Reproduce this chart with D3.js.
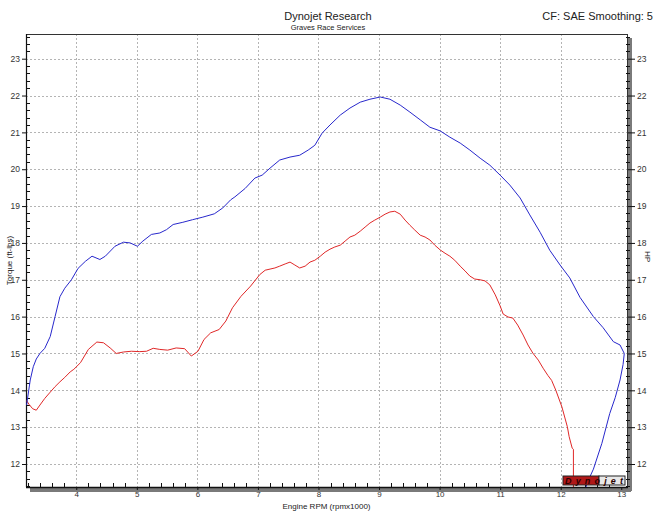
<!DOCTYPE html>
<html><head><meta charset="utf-8">
<script src="https://cdn.jsdelivr.net/npm/d3@7"></script>
<style>
html,body{margin:0;padding:0;background:#fff;overflow:hidden}
text{font-family:"Liberation Sans",Arial,sans-serif}
</style></head>
<body>
<svg id="chart" width="655" height="517"></svg>
<script>
// ---- data (rpm x1000, torque ft-lbs) ----
const blueRpm = [3.18,3.24,3.29,3.34,3.40,3.48,3.57,3.65,3.73,3.81,3.92,4.03,4.15,4.26,4.39,4.48,4.64,4.78,4.89,5.01,5.10,5.24,5.38,5.49,5.60,5.76,5.92,6.09,6.28,6.42,6.55,6.62,6.79,6.95,7.07,7.20,7.36,7.53,7.69,7.83,7.94,8.06,8.19,8.36,8.52,8.69,8.85,9.02,9.18,9.35,9.51,9.68,9.84,10.01,10.17,10.34,10.50,10.67,10.83,11.00,11.16,11.33,11.49,11.66,11.82,11.99,12.15,12.32,12.54,12.70,12.87,12.98,13.05,13.03,12.98,12.90,12.81,12.68,12.54,12.44,12.42];
const blueTq  = [13.60,14.28,14.64,14.85,15.00,15.14,15.46,16.00,16.54,16.77,17.00,17.31,17.50,17.64,17.55,17.64,17.91,18.02,18.00,17.91,18.05,18.23,18.27,18.36,18.50,18.56,18.63,18.70,18.79,18.95,19.17,19.25,19.48,19.76,19.84,20.03,20.25,20.33,20.38,20.52,20.65,20.98,21.20,21.47,21.66,21.82,21.90,21.96,21.90,21.74,21.55,21.34,21.14,21.04,20.87,20.71,20.52,20.30,20.11,19.84,19.57,19.22,18.76,18.29,17.80,17.40,17.05,16.52,16.00,15.70,15.32,15.23,15.00,14.70,14.28,13.80,13.37,12.56,11.86,11.50,11.38];
const redRpm = [3.18,3.22,3.28,3.34,3.40,3.48,3.57,3.65,3.73,3.81,3.90,3.96,4.07,4.20,4.34,4.45,4.56,4.66,4.78,4.91,5.05,5.16,5.27,5.38,5.51,5.65,5.79,5.90,6.01,6.11,6.22,6.36,6.47,6.58,6.72,6.88,7.03,7.12,7.20,7.28,7.36,7.45,7.53,7.61,7.69,7.78,7.86,7.94,8.03,8.11,8.19,8.27,8.36,8.44,8.52,8.60,8.69,8.77,8.85,8.93,9.02,9.10,9.18,9.26,9.35,9.43,9.51,9.59,9.68,9.76,9.84,9.92,10.01,10.09,10.17,10.25,10.34,10.42,10.50,10.58,10.67,10.75,10.83,10.92,11.00,11.05,11.13,11.21,11.29,11.38,11.46,11.54,11.63,11.71,11.79,11.85,11.92,12.02,12.11,12.14,12.19,12.21,12.21];
const redTq  = [13.72,13.62,13.50,13.46,13.60,13.78,13.95,14.10,14.23,14.35,14.50,14.57,14.75,15.11,15.31,15.29,15.15,15.00,15.04,15.06,15.05,15.06,15.14,15.11,15.09,15.15,15.13,14.93,15.06,15.38,15.56,15.65,15.88,16.24,16.55,16.83,17.14,17.26,17.29,17.32,17.37,17.43,17.48,17.40,17.32,17.37,17.48,17.53,17.64,17.75,17.83,17.89,17.94,18.05,18.16,18.21,18.32,18.43,18.54,18.62,18.70,18.78,18.84,18.86,18.78,18.62,18.48,18.35,18.21,18.16,18.08,17.94,17.81,17.72,17.64,17.53,17.37,17.24,17.10,17.02,17.00,16.97,16.86,16.59,16.29,16.07,15.99,15.96,15.77,15.50,15.23,15.01,14.82,14.60,14.40,14.27,14.00,13.55,13.01,12.74,12.43,12.40,11.38];
const xTicks = [4,5,6,7,8,9,10,11,12,13];
const yTicks = [12,13,14,15,16,17,18,19,20,21,22,23];
const xDomain = [3.17, 13.095];
const yDomain = [11.376, 23.67];

// ---- layout ----
const svg = d3.select("#chart");
const L = 26, R = 627, T = 34, B = 487;
const x = d3.scaleLinear().domain(xDomain).range([L, R]);
const y = d3.scaleLinear().domain(yDomain).range([B, T]);

// shadows
svg.append("rect").attr("x", R+1).attr("y", T+4).attr("width", 4).attr("height", B - T).attr("fill", "#7a7a7a");
svg.append("rect").attr("x", L+4).attr("y", B+1).attr("width", R - L).attr("height", 4).attr("fill", "#7a7a7a");
svg.append("rect").attr("x", L).attr("y", T).attr("width", R-L).attr("height", B-T).attr("fill", "#fff");

// grid
const grid = svg.append("g").attr("stroke", "#b4b4b4").attr("stroke-width", 1).attr("stroke-dasharray", "2,2");
grid.selectAll(".gx").data(xTicks.filter(d => d < 13)).join("line")
  .attr("x1", d => Math.round(x(d))+0.5).attr("x2", d => Math.round(x(d))+0.5).attr("y1", T).attr("y2", B);
grid.selectAll(".gy").data(yTicks).join("line")
  .attr("y1", d => Math.round(y(d))+0.5).attr("y2", d => Math.round(y(d))+0.5).attr("x1", L).attr("x2", R);

// frame
svg.append("rect").attr("x", L+0.5).attr("y", T+0.5).attr("width", R-L).attr("height", B-T)
  .attr("fill", "none").attr("stroke", "#333").attr("stroke-width", 1);
svg.append("line").attr("x1", L).attr("x2", R+1).attr("y1", B+0.5).attr("y2", B+0.5).attr("stroke", "#111").attr("stroke-width", 1.5);
svg.append("line").attr("x1", L+0.5).attr("x2", L+0.5).attr("y1", T).attr("y2", B).attr("stroke", "#111").attr("stroke-width", 1.2);

// minor ticks
const minorX = d3.range(32, 131).map(d => d/10).filter(d => d >= xDomain[0] && d <= xDomain[1] && Math.abs(d*5 - Math.round(d*5)) < 1e-6 && Math.abs(d - Math.round(d)) > 1e-6);
const minorY = d3.range(114, 237, 2).map(d => d/10).filter(d => Math.abs(d - Math.round(d)) > 1e-6);

// bottom axis
const axB = svg.append("g").attr("transform", `translate(0,${B})`)
  .call(d3.axisBottom(x).tickValues(xTicks).tickFormat(d3.format("d")).tickSize(3).tickPadding(1));
axB.select(".domain").remove();
axB.selectAll("text").attr("font-size", 8).attr("fill", "#333");
axB.selectAll("line").attr("stroke", "#111");
svg.append("g").selectAll("line").data(minorX).join("line")
  .attr("x1", d => Math.round(x(d))+0.5).attr("x2", d => Math.round(x(d))+0.5).attr("y1", B).attr("y2", B-4).attr("stroke", "#111");

// left axis
const axL = svg.append("g").attr("transform", `translate(${L},0)`)
  .call(d3.axisLeft(y).tickValues(yTicks).tickFormat(d3.format("d")).tickSize(4).tickPadding(2));
axL.select(".domain").remove();
axL.selectAll("text").attr("font-size", 8.5).attr("fill", "#333");
axL.selectAll("line").attr("stroke", "#111");
svg.append("g").selectAll("line").data(minorY).join("line")
  .attr("y1", d => Math.round(y(d))+0.5).attr("y2", d => Math.round(y(d))+0.5).attr("x1", L).attr("x2", L+4).attr("stroke", "#111");

// right axis
const axR = svg.append("g").attr("transform", `translate(${R+1},0)`)
  .call(d3.axisRight(y).tickValues(yTicks).tickFormat(d3.format("d")).tickSize(7).tickPadding(2));
axR.select(".domain").remove();
axR.selectAll("text").attr("font-size", 8.5).attr("fill", "#333");
axR.selectAll("line").attr("stroke", "#111");
svg.append("g").selectAll("line").data(minorY).join("line")
  .attr("y1", d => Math.round(y(d))+0.5).attr("y2", d => Math.round(y(d))+0.5).attr("x1", R-1).attr("x2", R+3).attr("stroke", "#111");

// curves
svg.append("clipPath").attr("id", "pc").append("rect")
  .attr("x", L).attr("y", T).attr("width", R-L+1).attr("height", B-T);
const line = d3.line().x(d => x(d[0])).y(d => y(d[1])).curve(d3.curveLinear);
const blue = blueRpm.map((r, i) => [r, blueTq[i]]);
const red = redRpm.map((r, i) => [r, redTq[i]]);
const pg = svg.append("g").attr("clip-path", "url(#pc)");
pg.append("path").datum(red).attr("d", line).attr("fill", "none").attr("stroke", "#e02828").attr("stroke-width", 1);
pg.append("path").datum(blue).attr("d", line).attr("fill", "none").attr("stroke", "#2828cc").attr("stroke-width", 1);

// logo
const lg = svg.append("g").attr("transform", `translate(${R-64},${B-13})`);
lg.append("rect").attr("x", 0).attr("y", 2).attr("width", 36).attr("height", 9).attr("fill", "#b01818").attr("stroke", "#222").attr("stroke-width", 1);
lg.append("rect").attr("x", 36).attr("y", 2).attr("width", 26).attr("height", 9).attr("fill", "#e8e8e8").attr("stroke", "#222").attr("stroke-width", 1);
lg.append("text").attr("x", 2).attr("y", 10).attr("font-size", 9).attr("font-weight", "bold").attr("font-style", "italic").attr("fill", "#2a0000").attr("textLength", 58).text("Dynojet");

// titles
svg.append("text").attr("x", 328).attr("y", 20).attr("text-anchor", "middle").attr("font-size", 11).attr("fill", "#222").text("Dynojet Research");
svg.append("text").attr("x", 328).attr("y", 30).attr("text-anchor", "middle").attr("font-size", 7.5).attr("fill", "#222").text("Graves Race Services");
svg.append("text").attr("x", 653).attr("y", 20).attr("text-anchor", "end").attr("font-size", 11).attr("fill", "#222").text("CF: SAE Smoothing: 5");
svg.append("text").attr("transform", `translate(12,${(T+B)/2}) rotate(-90)`).attr("text-anchor", "middle").attr("font-size", 8).attr("fill", "#222").text("Torque (ft-lbs)");
svg.append("text").attr("transform", `translate(645,${(T+B)/2 - 4}) rotate(90)`).attr("text-anchor", "middle").attr("font-size", 8).attr("fill", "#222").text("HP");
svg.append("text").attr("x", (L+R)/2).attr("y", 509).attr("text-anchor", "middle").attr("font-size", 8).attr("fill", "#222").text("Engine RPM (rpmx1000)");
</script>
</body></html>
